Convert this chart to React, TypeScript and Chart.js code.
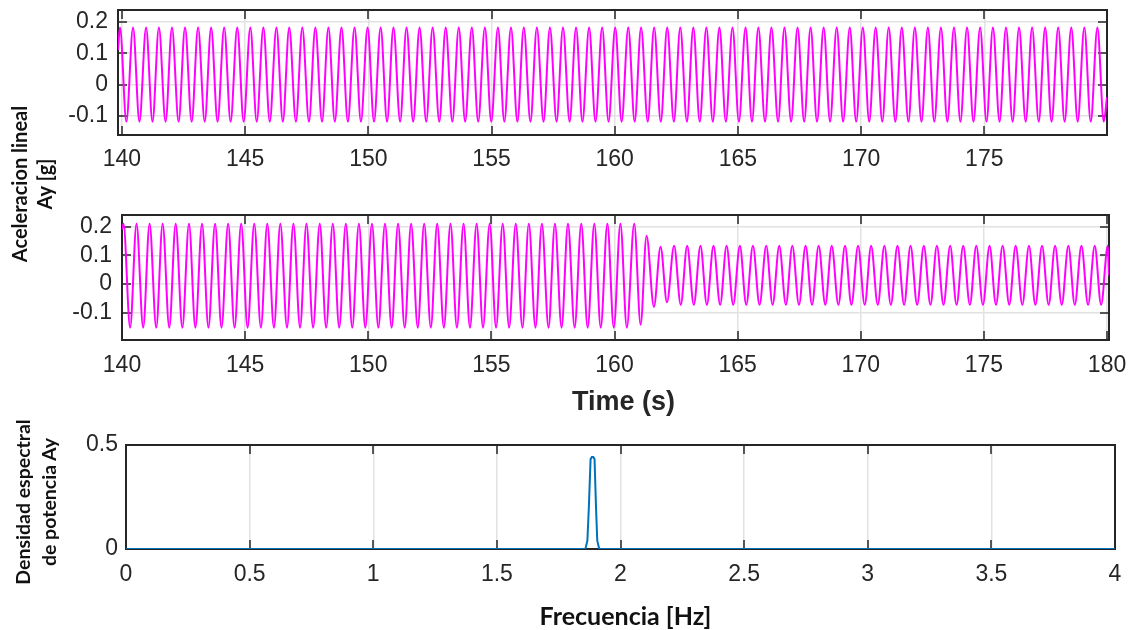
import React, { useEffect, useRef } from 'react';
import { Chart, registerables } from 'chart.js';

Chart.register(...registerables);

// ---------------- DATA ----------------
const TOP_TIME_TICKS = [140, 145, 150, 155, 160, 165, 170, 175];
const MID_TIME_TICKS = [140, 145, 150, 155, 160, 165, 170, 175, 180];
const ACC_TICKS = [-0.1, 0, 0.1, 0.2];
const FREQ_TICKS = [0, 0.5, 1, 1.5, 2, 2.5, 3, 3.5, 4];
const PSD_TICKS = [0, 0.5];

const TOP_RANGE_T = [139.84, 179.98];
const TOP_RANGE_A = [-0.161, 0.238];
const MID_RANGE_T = [140, 180.08];
const MID_RANGE_A = [-0.194, 0.24];
const FREQ_RANGE = [0, 4];
const PSD_RANGE = [0, 0.5];

// upper plot: times (s) and values (g) of the wave crests and troughs
const TOP_START = [139.84, 0.11];
const TOP_END = [179.98, -0.04];
const TOP_PEAK_T = [
  139.92, 140.45, 140.98, 141.5, 142.03, 142.56, 143.09, 143.62, 144.15, 144.68,
  145.21, 145.74, 146.27, 146.79, 147.32, 147.85, 148.38, 148.91, 149.44, 149.97,
  150.5, 151.02, 151.55, 152.08, 152.61, 153.14, 153.67, 154.2, 154.73, 155.26,
  155.79, 156.31, 156.84, 157.37, 157.9, 158.43, 158.96, 159.49, 160.02, 160.55,
  161.07, 161.6, 162.13, 162.66, 163.19, 163.72, 164.25, 164.78, 165.31, 165.83,
  166.36, 166.89, 167.42, 167.95, 168.48, 169.01, 169.54, 170.07, 170.59, 171.12,
  171.65, 172.18, 172.71, 173.24, 173.77, 174.3, 174.83, 175.35, 175.88, 176.41,
  176.94, 177.47, 178.0, 178.53, 179.06, 179.59,
];
const TOP_PEAK_V = [
  0.182, 0.182, 0.182, 0.182, 0.182, 0.182, 0.182, 0.182, 0.182, 0.182,
  0.182, 0.182, 0.182, 0.182, 0.182, 0.182, 0.182, 0.182, 0.182, 0.182,
  0.182, 0.182, 0.182, 0.182, 0.182, 0.182, 0.182, 0.182, 0.182, 0.182,
  0.182, 0.182, 0.182, 0.182, 0.182, 0.182, 0.182, 0.182, 0.182, 0.182,
  0.182, 0.182, 0.182, 0.182, 0.182, 0.182, 0.182, 0.182, 0.182, 0.182,
  0.182, 0.182, 0.182, 0.182, 0.182, 0.182, 0.182, 0.182, 0.182, 0.182,
  0.182, 0.182, 0.182, 0.182, 0.182, 0.182, 0.182, 0.182, 0.182, 0.182,
  0.182, 0.182, 0.182, 0.182, 0.182, 0.182,
];
const TOP_TROUGH_T = [
  140.18, 140.71, 141.24, 141.77, 142.3, 142.83, 143.36, 143.88, 144.41, 144.94,
  145.47, 146.0, 146.53, 147.06, 147.59, 148.12, 148.64, 149.17, 149.7, 150.23,
  150.76, 151.29, 151.82, 152.35, 152.88, 153.41, 153.93, 154.46, 154.99, 155.52,
  156.05, 156.58, 157.11, 157.64, 158.17, 158.69, 159.22, 159.75, 160.28, 160.81,
  161.34, 161.87, 162.4, 162.93, 163.45, 163.98, 164.51, 165.04, 165.57, 166.1,
  166.63, 167.16, 167.69, 168.21, 168.74, 169.27, 169.8, 170.33, 170.86, 171.39,
  171.92, 172.45, 172.97, 173.5, 174.03, 174.56, 175.09, 175.62, 176.15, 176.68,
  177.21, 177.73, 178.26, 178.79, 179.32, 179.85,
];
const TOP_TROUGH_V = [
  -0.118, -0.118, -0.118, -0.118, -0.118, -0.118, -0.118, -0.118, -0.118, -0.118,
  -0.118, -0.118, -0.118, -0.118, -0.118, -0.118, -0.118, -0.118, -0.118, -0.118,
  -0.118, -0.118, -0.118, -0.118, -0.118, -0.118, -0.118, -0.118, -0.118, -0.118,
  -0.118, -0.118, -0.118, -0.118, -0.118, -0.118, -0.118, -0.118, -0.118, -0.118,
  -0.118, -0.118, -0.118, -0.118, -0.118, -0.118, -0.118, -0.118, -0.118, -0.118,
  -0.118, -0.118, -0.118, -0.118, -0.118, -0.118, -0.118, -0.118, -0.118, -0.118,
  -0.118, -0.118, -0.118, -0.118, -0.118, -0.118, -0.118, -0.118, -0.118, -0.118,
  -0.118, -0.118, -0.118, -0.118, -0.118, -0.118,
];

// middle plot
const MID_START = [140.0, 0.19];
const MID_END = [180.08, 0.03];
const MID_PEAK_T = [
  140.06, 140.59, 141.12, 141.65, 142.18, 142.72, 143.25, 143.78, 144.31, 144.84,
  145.37, 145.9, 146.43, 146.96, 147.49, 148.03, 148.56, 149.09, 149.62, 150.15,
  150.68, 151.21, 151.74, 152.27, 152.8, 153.34, 153.87, 154.4, 154.93, 155.46,
  155.99, 156.52, 157.05, 157.58, 158.11, 158.65, 159.18, 159.71, 160.24, 160.8,
  161.3, 161.87, 162.42, 162.95, 163.49, 164.02, 164.55, 165.09, 165.62, 166.16,
  166.69, 167.22, 167.76, 168.29, 168.82, 169.36, 169.89, 170.42, 170.96, 171.49,
  172.02, 172.56, 173.09, 173.63, 174.16, 174.69, 175.23, 175.76, 176.29, 176.83,
  177.36, 177.89, 178.43, 178.96, 179.5, 180.03,
];
const MID_PEAK_V = [
  0.21, 0.21, 0.21, 0.21, 0.21, 0.21, 0.21, 0.21, 0.21, 0.21,
  0.21, 0.21, 0.21, 0.21, 0.21, 0.21, 0.21, 0.21, 0.21, 0.21,
  0.21, 0.21, 0.21, 0.21, 0.21, 0.21, 0.21, 0.21, 0.21, 0.21,
  0.21, 0.21, 0.21, 0.21, 0.21, 0.21, 0.21, 0.21, 0.21, 0.21,
  0.168, 0.13, 0.133, 0.133, 0.133, 0.133, 0.133, 0.133, 0.133, 0.133,
  0.133, 0.133, 0.133, 0.133, 0.133, 0.133, 0.133, 0.133, 0.133, 0.133,
  0.133, 0.133, 0.133, 0.133, 0.133, 0.133, 0.133, 0.133, 0.133, 0.133,
  0.133, 0.133, 0.133, 0.133, 0.133, 0.133,
];
const MID_TROUGH_T = [
  140.33, 140.86, 141.39, 141.92, 142.45, 142.98, 143.51, 144.04, 144.57, 145.1,
  145.64, 146.17, 146.7, 147.23, 147.76, 148.29, 148.82, 149.35, 149.88, 150.41,
  150.95, 151.48, 152.01, 152.54, 153.07, 153.6, 154.13, 154.66, 155.19, 155.72,
  156.26, 156.79, 157.32, 157.85, 158.38, 158.91, 159.44, 159.97, 160.5, 161.06,
  161.6, 162.13, 162.69, 163.22, 163.75, 164.29, 164.82, 165.35, 165.89, 166.42,
  166.96, 167.49, 168.02, 168.56, 169.09, 169.62, 170.16, 170.69, 171.22, 171.76,
  172.29, 172.83, 173.36, 173.89, 174.43, 174.96, 175.49, 176.03, 176.56, 177.09,
  177.63, 178.16, 178.69, 179.23, 179.76,
];
const MID_TROUGH_V = [
  -0.151, -0.151, -0.151, -0.151, -0.151, -0.151, -0.151, -0.151, -0.151, -0.151,
  -0.151, -0.151, -0.151, -0.151, -0.151, -0.151, -0.151, -0.151, -0.151, -0.151,
  -0.151, -0.151, -0.151, -0.151, -0.151, -0.151, -0.151, -0.151, -0.151, -0.151,
  -0.151, -0.151, -0.151, -0.151, -0.151, -0.151, -0.151, -0.151, -0.151, -0.141,
  -0.079, -0.063, -0.072, -0.072, -0.072, -0.072, -0.072, -0.072, -0.072, -0.072,
  -0.072, -0.072, -0.072, -0.072, -0.072, -0.072, -0.072, -0.072, -0.072, -0.072,
  -0.072, -0.072, -0.072, -0.072, -0.072, -0.072, -0.072, -0.072, -0.072, -0.072,
  -0.072, -0.072, -0.072, -0.072, -0.072,
];

// power spectral density
const FREQ_HZ = [0, 1.858, 1.866, 1.872, 1.879, 1.884, 1.89, 1.895, 1.901, 1.906, 1.914, 4];
const PSD_VALUES = [0, 0, 0.04, 0.2, 0.432, 0.442, 0.442, 0.432, 0.2, 0.04, 0, 0];

// ---------------- STYLE ----------------
const MAGENTA = '#ff00ff';
const BLUE = '#0072bd';
const AXIS_COLOR = '#262626';
const GRID_COLOR = '#e2e2e2';
const TICK_FONT = "'Liberation Sans', Arial, sans-serif";
const TITLE_FONT = "Lato, 'Open Sans', sans-serif";

function buildWave(peakT: number[], peakV: number[], troughT: number[], troughV: number[], start: number[], end: number[]) {
  const pts: { x: number; y: number }[] = [{ x: start[0], y: start[1] }];
  peakT.forEach((t, i) => pts.push({ x: t, y: peakV[i] }));
  troughT.forEach((t, i) => pts.push({ x: t, y: troughV[i] }));
  pts.push({ x: end[0], y: end[1] });
  pts.sort((a, b) => a.x - b.x);
  return pts;
}

const framePlugin = {
  id: 'matlabFrame',
  beforeDatasetsDraw(chart: any) {
    const { ctx, chartArea: a, scales } = chart;
    const L = 9;
    ctx.save();
    ctx.strokeStyle = AXIS_COLOR;
    ctx.lineWidth = 1.5;
    ctx.beginPath();
    for (const t of scales.x.ticks) {
      const px = Math.round(scales.x.getPixelForValue(t.value));
      ctx.moveTo(px, a.bottom);
      ctx.lineTo(px, a.bottom - L);
      ctx.moveTo(px, a.top);
      ctx.lineTo(px, a.top + L);
    }
    for (const t of scales.y.ticks) {
      const py = Math.round(scales.y.getPixelForValue(t.value));
      ctx.moveTo(a.left, py);
      ctx.lineTo(a.left + L, py);
      ctx.moveTo(a.right, py);
      ctx.lineTo(a.right - L, py);
    }
    ctx.stroke();
    ctx.lineWidth = 2;
    ctx.strokeRect(a.left, a.top, a.right - a.left, a.bottom - a.top);
    ctx.restore();
  },
};

type Cfg = {
  data: { x: number; y: number }[];
  color: string;
  monotone: boolean;
  xRange: number[];
  yRange: number[];
  xTicks: number[];
  yTicks: number[];
  yAxisW: number;
  xAxisH: number;
  padTop: number;
  padRight: number;
  xPad: number;
  yPad: number;
};

function makeChart(canvas: HTMLCanvasElement, c: Cfg) {
  const tickFont = { family: TICK_FONT, size: 23 };
  return new Chart(canvas, {
    type: 'line',
    data: {
      datasets: [
        {
          data: c.data,
          borderColor: c.color,
          borderWidth: 2,
          pointRadius: 0,
          fill: false,
          tension: 0,
          cubicInterpolationMode: c.monotone ? 'monotone' : 'default',
        },
      ],
    },
    options: {
      responsive: false,
      animation: false,
      events: [],
      layout: { autoPadding: false, padding: { left: 0, right: c.padRight, top: c.padTop, bottom: 0 } },
      plugins: { legend: { display: false }, tooltip: { enabled: false }, title: { display: false } },
      scales: {
        x: {
          type: 'linear',
          min: c.xRange[0],
          max: c.xRange[1],
          afterBuildTicks: (s: any) => {
            s.ticks = c.xTicks.map((v) => ({ value: v }));
          },
          afterFit: (s: any) => {
            s.height = c.xAxisH;
            s.paddingLeft = 0;
            s.paddingRight = 0;
          },
          grid: { color: GRID_COLOR, lineWidth: 1.5, drawTicks: false },
          border: { display: false },
          ticks: {
            autoSkip: false,
            maxRotation: 0,
            padding: c.xPad,
            color: AXIS_COLOR,
            font: tickFont,
            callback: (v: any) => String(v),
          },
        },
        y: {
          type: 'linear',
          min: c.yRange[0],
          max: c.yRange[1],
          afterBuildTicks: (s: any) => {
            s.ticks = c.yTicks.map((v) => ({ value: v }));
          },
          afterFit: (s: any) => {
            s.width = c.yAxisW;
            s.paddingTop = 0;
            s.paddingBottom = 0;
          },
          grid: { color: GRID_COLOR, lineWidth: 1.5, drawTicks: false },
          border: { display: false },
          ticks: {
            autoSkip: false,
            padding: c.yPad,
            color: AXIS_COLOR,
            font: tickFont,
            callback: (v: any) => String(v),
          },
        },
      },
    } as any,
    plugins: [framePlugin],
  });
}

export default function App() {
  const r1 = useRef<HTMLCanvasElement>(null);
  const r2 = useRef<HTMLCanvasElement>(null);
  const r3 = useRef<HTMLCanvasElement>(null);

  useEffect(() => {
    const charts = [
      makeChart(r1.current!, {
        data: buildWave(TOP_PEAK_T, TOP_PEAK_V, TOP_TROUGH_T, TOP_TROUGH_V, TOP_START, TOP_END),
        color: MAGENTA,
        monotone: true,
        xRange: TOP_RANGE_T,
        yRange: TOP_RANGE_A,
        xTicks: TOP_TIME_TICKS,
        yTicks: ACC_TICKS,
        yAxisW: 118,
        xAxisH: 55,
        padTop: 10,
        padRight: 26,
        xPad: 11,
        yPad: 10,
      }),
      makeChart(r2.current!, {
        data: buildWave(MID_PEAK_T, MID_PEAK_V, MID_TROUGH_T, MID_TROUGH_V, MID_START, MID_END),
        color: MAGENTA,
        monotone: true,
        xRange: MID_RANGE_T,
        yRange: MID_RANGE_A,
        xTicks: MID_TIME_TICKS,
        yTicks: ACC_TICKS,
        yAxisW: 122,
        xAxisH: 65,
        padTop: 25,
        padRight: 24,
        xPad: 12,
        yPad: 10,
      }),
      makeChart(r3.current!, {
        data: FREQ_HZ.map((f, i) => ({ x: f, y: PSD_VALUES[i] })),
        color: BLUE,
        monotone: false,
        xRange: FREQ_RANGE,
        yRange: PSD_RANGE,
        xTicks: FREQ_TICKS,
        yTicks: PSD_TICKS,
        yAxisW: 126,
        xAxisH: 81,
        padTop: 25,
        padRight: 18,
        xPad: 12,
        yPad: 8,
      }),
    ];
    return () => charts.forEach((ch) => ch.destroy());
  }, []);

  const rotated = (cx: number, cy: number, lh: number, size: number, lines: string[]) => (
    <div
      style={{
        position: 'absolute',
        left: cx,
        top: cy,
        transform: 'translate(-50%, -50%) rotate(-90deg)',
        fontFamily: TITLE_FONT,
        fontWeight: 700,
        fontSize: size,
        lineHeight: lh + 'px',
        color: '#111',
        whiteSpace: 'pre',
        textAlign: 'center',
      }}
    >
      {lines.join('\n')}
    </div>
  );

  return (
    <div style={{ position: 'absolute', left: 0, top: 0, width: 1133, height: 630, background: '#fff', overflow: 'hidden' }}>
      <canvas ref={r1} width={1133} height={190} style={{ position: 'absolute', left: 0, top: 0 }} />
      <canvas ref={r2} width={1133} height={215} style={{ position: 'absolute', left: 0, top: 190 }} />
      <canvas ref={r3} width={1133} height={210} style={{ position: 'absolute', left: 0, top: 420 }} />
      {rotated(32, 183.5, 25, 20, ['Aceleracion lineal', 'Ay [g]'])}
      {rotated(35.5, 502, 26, 19.5, ['Densidad espectral', 'de potencia Ay'])}
      <div
        style={{
          position: 'absolute',
          left: 623.5,
          top: 388,
          transform: 'translateX(-50%)',
          fontFamily: TICK_FONT,
          fontWeight: 700,
          fontSize: 27,
          lineHeight: '27px',
          color: AXIS_COLOR,
          whiteSpace: 'nowrap',
        }}
      >
        Time (s)
      </div>
      <div
        style={{
          position: 'absolute',
          left: 625.5,
          top: 603,
          transform: 'translateX(-50%)',
          fontFamily: TITLE_FONT,
          fontWeight: 700,
          fontSize: 25,
          lineHeight: '25px',
          color: '#111',
          whiteSpace: 'nowrap',
        }}
      >
        Frecuencia [Hz]
      </div>
    </div>
  );
}
